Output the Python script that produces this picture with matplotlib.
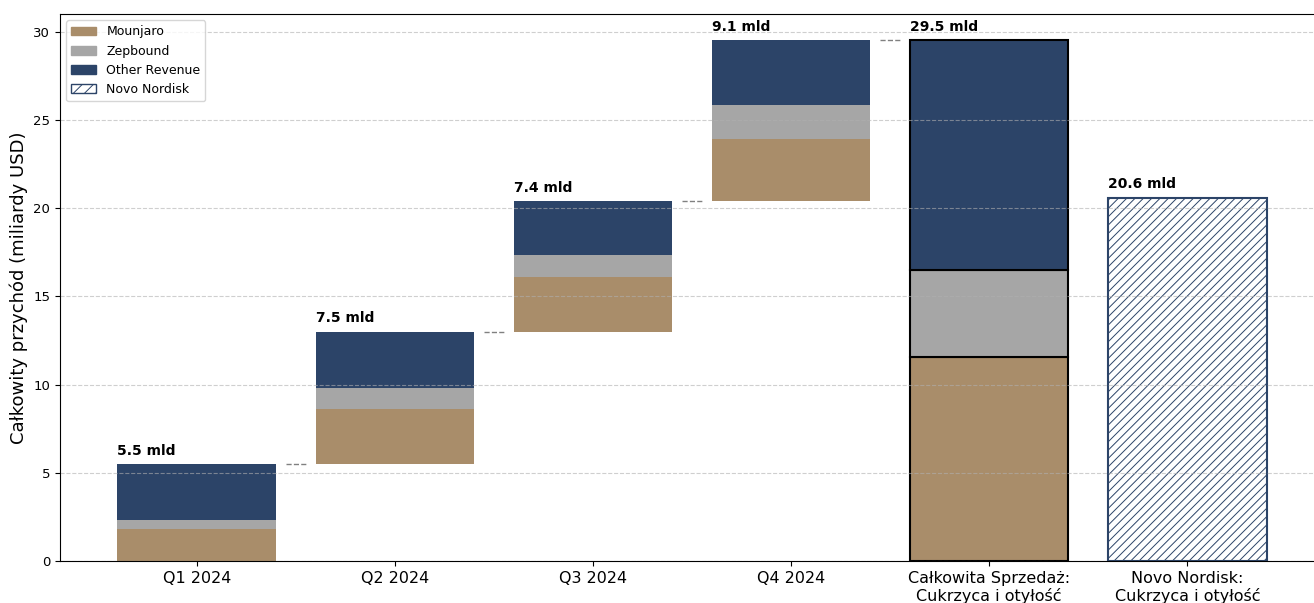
import matplotlib
matplotlib.use("Agg")
import matplotlib.pyplot as plt
import matplotlib.patches as mpatches
import numpy as np

quarters = ["Q1 2024", "Q2 2024", "Q3 2024", "Q4 2024"]
mounjaro = [1.81, 3.09, 3.11, 3.53]
zepbound = [0.52, 1.24, 1.26, 1.91]
other = [3.17, 3.17, 3.03, 3.66]
quarter_labels = ["5.5 mld", "7.5 mld", "7.4 mld", "9.1 mld"]
total_label = "29.5 mld"
novo_value = 20.6
novo_label = "20.6 mld"
xlabels = quarters + ["Całkowita Sprzedaż:\nCukrzyca i otyłość", "Novo Nordisk:\nCukrzyca i otyłość"]

c_m = "#a98d6a"
c_z = "#a6a6a6"
c_o = "#2c4468"

plt.rcParams["hatch.linewidth"] = 0.7

fig = plt.figure(figsize=(13.14, 6.03), dpi=100)
ax = fig.add_axes([60/1314, (603-561)/603, (1324-60)/1314, (561-14)/603])

w = 0.8
base = 0.0
for i in range(4):
    b = base
    ax.bar(i, mounjaro[i], w, bottom=b, color=c_m)
    b += mounjaro[i]
    ax.bar(i, zepbound[i], w, bottom=b, color=c_z)
    b += zepbound[i]
    ax.bar(i, other[i], w, bottom=b, color=c_o)
    b += other[i]
    ax.text(i - w/2, b + 0.35, quarter_labels[i], fontsize=10, fontweight="bold",
            ha="left", va="bottom")
    ax.plot([i + 0.45, i + 0.55], [b, b], color="gray", linestyle="--", linewidth=1)
    base = b

tm = sum(mounjaro)
tz = sum(zepbound)
to = sum(other)
ax.bar(4, tm, w, color=c_m, edgecolor="black", linewidth=1.5)
ax.bar(4, tz, w, bottom=tm, color=c_z, edgecolor="black", linewidth=1.5)
ax.bar(4, to, w, bottom=tm + tz, color=c_o, edgecolor="black", linewidth=1.5)
ax.text(4 - w/2, tm + tz + to + 0.35, total_label, fontsize=10, fontweight="bold",
        ha="left", va="bottom")

ax.bar(5, novo_value, w, color="white", edgecolor=c_o, hatch="////", linewidth=1.5)
ax.text(5 - w/2, novo_value + 0.35, novo_label, fontsize=10, fontweight="bold",
        ha="left", va="bottom")

ax.set_ylim(0, 31)
ax.set_xlim(-0.69, 5.69)
ax.set_xticks(range(6))
ax.set_xticklabels(xlabels, fontsize=11.5)
ax.tick_params(axis="y", labelsize=9.5)
ax.set_ylabel("Całkowity przychód (miliardy USD)", fontsize=13)
ax.grid(axis="y", linestyle="--", alpha=0.6)

handles = [
    mpatches.Patch(color=c_m, label="Mounjaro"),
    mpatches.Patch(color=c_z, label="Zepbound"),
    mpatches.Patch(color=c_o, label="Other Revenue"),
    mpatches.Patch(facecolor="white", edgecolor=c_o, hatch="///", label="Novo Nordisk"),
]
ax.legend(handles=handles, loc="upper left", fontsize=9)

fig.savefig("out.png", dpi=100)
